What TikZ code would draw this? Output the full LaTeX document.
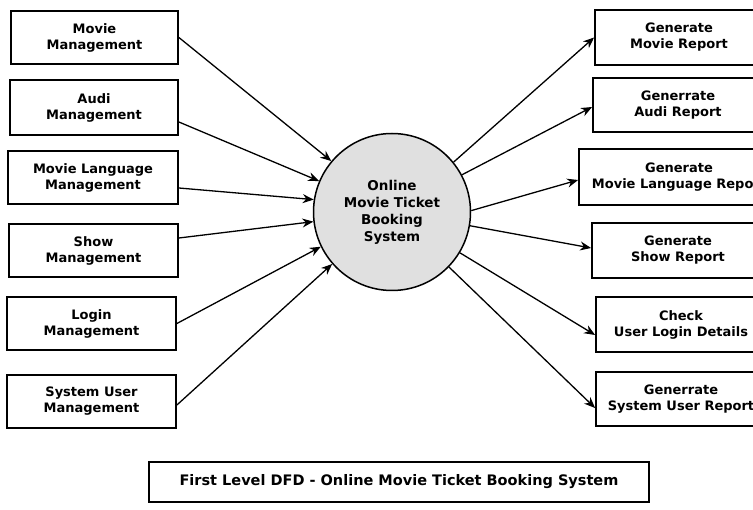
\documentclass[tikz,border=0pt]{standalone}
\usepackage{fontspec}
\setmainfont{DejaVu Sans}
\usetikzlibrary{arrows.meta}

\begin{document}
\begin{tikzpicture}[x=1pt,y=-1pt]
    \tikzstyle{box}=[draw, line width=1.8pt, align=center, inner sep=0pt, minimum height=53pt, font=\bfseries\fontsize{13}{16}\selectfont]
    \tikzstyle{proc}=[draw, circle, line width=1.5pt, fill=black!12, minimum size=157pt, align=center, font=\bfseries\fontsize{13.5}{17}\selectfont]
    \tikzstyle{flow}=[line width=1.3pt, -{Stealth[length=11pt,width=9pt]}]
    \path[use as bounding box, clip] (0,0) rectangle (753,510);

    \node[proc] (sys) at (392,212) {Online\\Movie Ticket\\Booking\\System};

    \node[box, minimum width=167pt] (movie) at (94.5,37.5) {Movie\\Management};
    \node[box, minimum width=168pt, minimum height=55pt] (audi) at (94,107.5) {Audi\\Management};
    \node[box, minimum width=170pt] (lang) at (93,177.5) {Movie Language\\Management};
    \node[box, minimum width=169pt] (show) at (93.5,250.5) {Show\\Management};
    \node[box, minimum width=169pt] (login) at (91.5,323.5) {Login\\Management};
    \node[box, minimum width=169pt] (user) at (91.5,401.5) {System User\\Management};

    \node[box, minimum width=168pt, minimum height=55pt] (rmovie) at (679,37.5) {Generate\\Movie Report};
    \node[box, minimum width=170pt, minimum height=54pt] (raudi) at (678,105) {Generrate\\Audi Report};
    \node[box, minimum width=200pt, minimum height=56pt] (rlang) at (679,177) {Generate\\Movie Language Report};
    \node[box, minimum width=172pt, minimum height=55pt] (rshow) at (678,250.5) {Generate\\Show Report};
    \node[box, minimum width=170pt, minimum height=55pt] (rlogin) at (681,324.5) {Check\\User Login Details};
    \node[box, minimum width=170pt, minimum height=54pt] (ruser) at (681,399) {Generrate\\System User Report};

    \node[box, minimum width=500pt, minimum height=40pt, font=\bfseries\fontsize{14.5}{17}\selectfont] (title) at (399,482) {First Level DFD - Online Movie Ticket Booking System};

    \draw[flow] (movie.east) -- (sys.140.2);
    \draw[flow] ([yshift=-14.5pt]audi.east) -- (sys.157.9);
    \draw[flow] ([yshift=-10.5pt]lang.east) -- (sys.171.3);
    \draw[flow] ([yshift=12.5pt]show.east) -- (sys.187.8);
    \draw[flow] (login.east) -- (sys.206.6);
    \draw[flow] ([yshift=-3.5pt]user.east) -- (sys.221.9);

    \draw[flow] (sys.39.8) -- (rmovie.west);
    \draw[flow] (sys.28.8) -- ([yshift=-2pt]raudi.west);
    \draw[flow] (sys.1.5) -- ([yshift=-3pt]rlang.west);
    \draw[flow] (sys.-10.9) -- ([yshift=2.5pt]rshow.west);
    \draw[flow] (sys.-31.1) -- ([yshift=-10.5pt]rlogin.west);
    \draw[flow] (sys.-44.5) -- ([yshift=-9pt]ruser.west);
\end{tikzpicture}
\end{document}
